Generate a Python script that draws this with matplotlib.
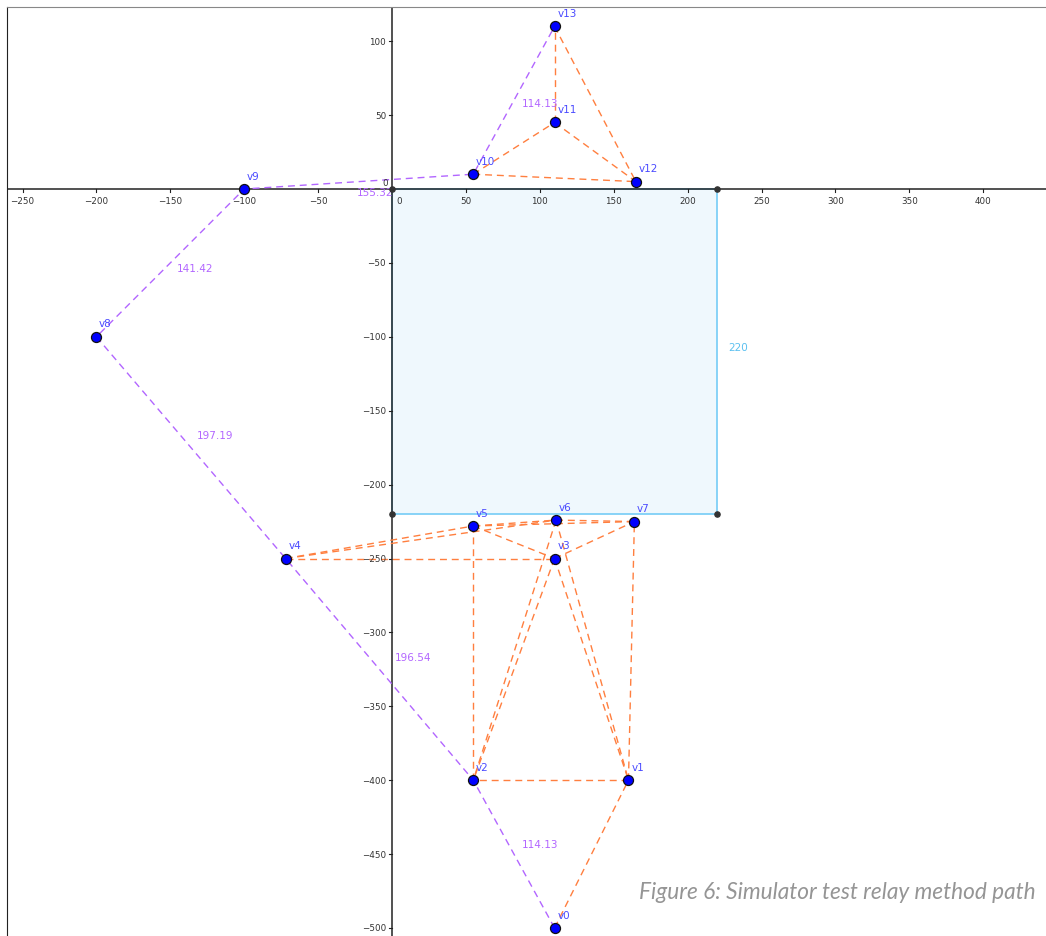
import matplotlib
matplotlib.use("Agg")
import matplotlib.pyplot as plt
from matplotlib.patches import Rectangle

# ---------------- data ----------------
vertex_names = ["v0", "v1", "v2", "v3", "v4", "v5", "v6", "v7",
                "v8", "v9", "v10", "v11", "v12", "v13"]
vertex_x = [110, 160, 55, 110, -72, 55, 111, 164, -200, -100, 55, 110, 165, 110]
vertex_y = [-500, -400, -400, -250, -250, -228, -224, -225, -100, 0, 10, 45, 5, 110]

# relay path (purple)
relay_path = ["v0", "v2", "v4", "v8", "v9", "v10", "v13"]
# other graph edges (orange)
orange_edges = [("v0", "v1"), ("v1", "v2"), ("v2", "v5"), ("v1", "v7"),
                ("v4", "v3"), ("v4", "v5"), ("v4", "v6"),
                ("v5", "v6"), ("v5", "v7"), ("v6", "v7"),
                ("v5", "v3"), ("v3", "v7"),
                ("v3", "v2"), ("v6", "v2"), ("v3", "v1"), ("v6", "v1"),
                ("v10", "v11"), ("v11", "v13"), ("v11", "v12"),
                ("v10", "v12"), ("v13", "v12")]

# distance labels on the relay path
dist_text = ["114.13", "196.54", "197.19", "141.42", "155.32", "114.13"]
dist_x = [100, 14, -120, -133, -11.5, 100]
dist_y = [-443, -316.5, -166.5, -53.5, -2, 58]

# obstacle square
square_x0, square_y0, square_size = 0, -220, 220
square_label = "220"

x_ticks = [-250, -200, -150, -100, -50, 50, 100, 150, 200, 250, 300, 350, 400]
y_ticks = [-500, -450, -400, -350, -300, -250, -200, -150, -100, -50, 50, 100]

caption = "Figure 6: Simulator test relay method path"

# ---------------- style ----------------
ORANGE = "#ff7f3f"
PURPLE = "#b266ff"
VBLUE = "#0000ff"
LBLUE = "#4a4aff"
SQ_EDGE = "#7fd0f7"
SQ_FILL = "#eff8fd"
AXC = "#222222"

W, H = 1046, 937
fig = plt.figure(figsize=(W / 100, H / 100), dpi=100)
left_px, top_px = 7, 8
ax = fig.add_axes([left_px / W, 0, (W - left_px) / W, (H - top_px) / H])

scale = 1.478  # px per unit
x0_px, y0_px = 392, 190
ax.set_xlim((left_px - x0_px) / scale, (W - x0_px) / scale)
ax.set_ylim(-(H - y0_px) / scale, (y0_px - top_px) / scale)

pos = {n: (x, y) for n, x, y in zip(vertex_names, vertex_x, vertex_y)}

# square
ax.add_patch(Rectangle((square_x0, square_y0), square_size, square_size,
                       facecolor=SQ_FILL, edgecolor=SQ_EDGE, lw=1.3, zorder=1))
ax.text(square_x0 + square_size + 14, square_y0 + square_size / 2 + 3, square_label,
        color="#5bc0f0", fontsize=7.5, ha="center", va="center", zorder=5)

# axes lines through origin
ax.axhline(0, color=AXC, lw=1.1, zorder=2)
ax.axvline(0, color=AXC, lw=1.1, zorder=2)

# orange edges
for a, b in orange_edges:
    ax.plot([pos[a][0], pos[b][0]], [pos[a][1], pos[b][1]], color=ORANGE,
            lw=1.0, dashes=(5, 3.5), zorder=3)

# purple relay path
px_ = [pos[n][0] for n in relay_path]
py_ = [pos[n][1] for n in relay_path]
ax.plot(px_, py_, color=PURPLE, lw=1.0, dashes=(5, 3.5), zorder=3)

for t, x, y in zip(dist_text, dist_x, dist_y):
    ax.text(x, y, t, color=PURPLE, fontsize=7.5, ha="center", va="center", zorder=5)

# square corner points
cx = [square_x0, square_x0 + square_size, square_x0, square_x0 + square_size]
cy = [square_y0 + square_size, square_y0 + square_size, square_y0, square_y0]
ax.scatter(cx, cy, s=14, color="#333333", zorder=6)

# vertices
ax.plot(vertex_x, vertex_y, "o", ms=7.2, mfc=VBLUE, mec="#111111", mew=0.9,
        ls="none", zorder=7)
for n, x, y in zip(vertex_names, vertex_x, vertex_y):
    ax.annotate(n, (x, y), xytext=(2, 6), textcoords="offset points",
                color=LBLUE, fontsize=7.5, ha="left", va="bottom", zorder=8)

# frame
for s in ["right", "bottom"]:
    ax.spines[s].set_visible(False)
ax.spines["left"].set_color(AXC)
ax.spines["top"].set_color("#888888")

ax.set_xticks(x_ticks)
ax.set_yticks(y_ticks)
ax.tick_params(axis="x", bottom=False, labelbottom=False)
ax.tick_params(axis="y", left=False, labelleft=False)

# tick marks and labels on the axes through origin
for t in x_ticks:
    ax.plot([t, t], [0, -2], color=AXC, lw=0.8, zorder=2)
    ax.text(t, -4.5, f"{t}".replace("-", "\u2212"), fontsize=6.3, color="#333333",
            ha="center", va="top", zorder=5)
for t in y_ticks:
    ax.plot([0, -2], [t, t], color=AXC, lw=0.8, zorder=2)
    ax.text(-4, t, f"{t}".replace("-", "\u2212"), fontsize=6.3, color="#333333",
            ha="right", va="center", zorder=5)
ax.text(3, -4.5, "0", fontsize=6.3, color="#333333", ha="left", va="top", zorder=5)
ax.text(-3, 1.5, "0", fontsize=6.3, color="#333333", ha="right", va="bottom", zorder=5)

# caption
fig.text(1036 / W, 1 - 893 / H, caption, fontsize=16.3, style="italic",
         color="#959595", ha="right", va="center", family="Lato")

fig.savefig("out.png", dpi=100)
